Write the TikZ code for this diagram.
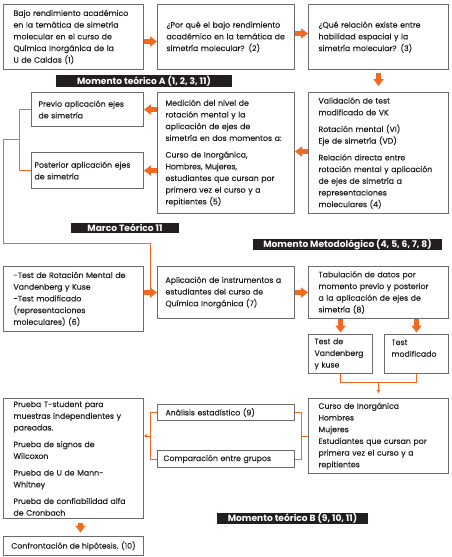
\documentclass[tikz,border=0pt]{standalone}
\usepackage{fontspec}
\setmainfont{Poppins}
\newfontfamily\bodyff{Poppins}[FakeBold=0.3]
\usetikzlibrary{arrows.meta,calc}
\definecolor{orng}{HTML}{F26A21}
\definecolor{boxg}{HTML}{6B6B6B}
\definecolor{txt}{HTML}{231F20}
\newcommand{\bodyfnt}{\bodyff\fontsize{7.8}{11.7}\selectfont}
\newcommand{\barfnt}{\fontsize{9.1}{10}\selectfont\bfseries}
\begin{document}
\begin{tikzpicture}[x=1pt,y=-1pt,
  box/.style={draw=boxg, line width=1pt, anchor=north west, align=left,
    inner ysep=1pt, text=txt, font=\bodyfnt},
  bar/.style={fill=txt, text=white, font=\barfnt, inner sep=0pt},
  oline/.style={draw=orng, line width=0.9pt},
  smalltip/.style={-{Triangle[length=3pt,width=3.5pt]}},
  bigarrow/.style={draw=orng, line width=4.5pt,
    -{Triangle[length=7pt,width=10.5pt,line width=0pt]}}]
\useasboundingbox (0,0) rectangle (451,557);

% row 1
\node[box, minimum width=140pt, minimum height=65pt, inner xsep=10pt, text width=120pt] (b1) at (3,4)
 {Bajo rendimiento académico\\en la temática de simetría\\molecular en el curso de\\Química Inorgánica de la\\U de Caldas (1)};
\node[box, minimum width=137pt, minimum height=65pt, inner xsep=9pt, text width=119pt] (b2) at (157,4)
 {¿Por qué el bajo rendimiento\\académico en la temática de\\simetría molecular? (2)};
\node[box, minimum width=140pt, minimum height=65pt, inner xsep=10pt, text width=120pt] (b3) at (308,4)
 {¿Qué relación existe entre\\habilidad espacial y la\\simetría molecular? (3)};

% row 2
\node[box, minimum width=112pt, minimum height=34pt, inner xsep=7pt, text width=98pt] (bprev) at (31,92)
 {Previo aplicación ejes\\de simetría};
\node[box, minimum width=112pt, minimum height=36pt, inner xsep=3pt, text width=106pt] (bpost) at (31,152)
 {Posterior aplicación ejes\\de simetría};
\node[box, minimum width=137pt, minimum height=121pt, inner xsep=8pt, text width=121pt] (bmed) at (157,92)
 {Medición del nivel de\\rotación mental y la\\aplicación de ejes de\\simetría en dos momentos a:\\[5pt]Curso de Inorgánica,\\Hombres, Mujeres,\\estudiantes que cursan por\\primera vez el curso y a\\repitientes (5)};
\node[box, minimum width=140pt, minimum height=121pt, inner xsep=10pt, text width=120pt] (bval) at (308,92)
 {Validación de test\\modificado de VK\\[5pt]Rotación mental (VI)\\Eje de simetría (VD)\\[5pt]Relación directa entre\\rotación mental y aplicación\\de ejes de simetría a\\representaciones\\moleculares (4)};

% row 3
\node[box, minimum width=140pt, minimum height=65pt, inner xsep=10pt, text width=120pt] (b6) at (3,266)
 {-Test de Rotación Mental de\\Vandenberg y Kuse\\-Test modificado\\(representaciones\\moleculares) (6)};
\node[box, minimum width=137pt, minimum height=52pt, inner xsep=8pt, text width=121pt] (b7) at (157,266)
 {Aplicación de instrumentos a\\estudiantes del curso de\\Química Inorgánica (7)};
\node[box, minimum width=140pt, minimum height=52pt, inner xsep=10pt, text width=120pt] (b8) at (308,266)
 {Tabulación de datos por\\momento previo y posterior\\a la aplicación de ejes de\\simetría (8)};

\node[box, minimum width=64pt, minimum height=39pt, inner xsep=6pt, text width=52pt] (tvk) at (308,334)
 {Test de\\Vandenberg\\y kuse};
\node[box, minimum width=64pt, minimum height=39pt, inner xsep=7pt, text width=50pt] (tmod) at (384,334)
 {Test\\modificado\\\mbox{}};

\node[box, minimum width=140pt, minimum height=75pt, inner xsep=10pt, text width=120pt] (curso) at (308,398)
 {Curso de Inorgánica\\Hombres\\Mujeres\\Estudiantes que cursan por\\primera vez el curso y a\\repitientes};
\node[box, minimum width=137pt, minimum height=16pt, inner xsep=8pt, text width=121pt] (anal) at (157,404)
 {Análisis estadístico (9)};
\node[box, minimum width=137pt, minimum height=17pt, inner xsep=6pt, text width=125pt] (comp) at (157,450)
 {Comparación entre grupos};
\node[box, minimum width=140pt, minimum height=120pt, inner xsep=10pt, text width=120pt] (prueba) at (3,398)
 {Prueba T-student para\\muestras independientes y\\pareadas.\\[5pt]Prueba de signos de\\Wilcoxon\\[5pt]Prueba de U de Mann-\\Whitney\\[5pt]Prueba de confiabilidad alfa\\de Cronbach};
\node[box, minimum width=140pt, minimum height=19pt, inner xsep=2pt] (conf) at (3,536)
 {Confrontación de hipótesis. (10)};

% bars
\node[bar, minimum width=176pt, minimum height=12pt] (barA) at (144,81) {Momento teórico A (1, 2, 3, 11)};
\node[bar, minimum width=108pt, minimum height=10pt] (barM) at (125,228) {Marco Teórico 11};
\node[bar, minimum width=189pt, minimum height=11pt] (barMet) at (347.5,244.5) {Momento Metodológico (4, 5, 6, 7, 8)};
\node[bar, minimum width=151pt, minimum height=9.5pt] (barB) at (292.5,518.5) {Momento teórico B (9, 10, 11)};

% thin orange connectors
\coordinate (brk) at (19,139);
\coordinate (c1) at (3,139);
\coordinate (c2) at (3,243);
\coordinate (c3) at (150,243);
\coordinate (c4) at (150,292);
\draw[oline] (bprev.west) -- (bprev.west -| brk) -- (bpost.west -| brk) -- (bpost.west);
\draw[oline] (brk) -- (c1) -- (c2) -- (c3) -- (c4);

\coordinate (join) at (378,382);
\draw[oline] (tvk.south) -- (tvk.south |- join) -- (tmod.south |- join) -- (tmod.south);
\draw[oline, smalltip] (join -| curso.north) -- ([yshift=5pt]curso.north);

\coordinate (lb) at (150,436);
\draw[oline] (anal.west) -- (anal.west -| lb) -- (comp.west -| lb) -- (comp.west);
\draw[oline, smalltip] (lb) -- (prueba.east |- lb);
\coordinate (rb) at (301,436);
\draw[oline] (anal.east) -- (anal.east -| rb) -- (comp.east -| rb) -- (comp.east);
\draw[oline] (rb) -- (curso.west |- rb);

% big arrows
\draw[bigarrow] ([yshift=-4.5pt]b1.east) -- ([yshift=-4.5pt]b2.west);
\draw[bigarrow] ([yshift=3.5pt]b2.east) -- ([yshift=3.5pt]b3.west);
\draw[bigarrow, shorten <=3pt, shorten >=6pt] (b3.south) -- (bval.north);
\draw[bigarrow] (bmed.west |- bprev.east) -- (bprev.east);
\draw[bigarrow] (bmed.west |- bpost.east) -- (bpost.east);
\draw[bigarrow] ([yshift=1.5pt]bval.west) -- ([yshift=1.5pt]bmed.east);
\draw[bigarrow] (b6.east |- b7.west) -- (b7.west);
\draw[bigarrow] (b7.east) -- (b8.west);
\draw[bigarrow, shorten >=1.5pt] (b8.south -| tvk.north) -- (tvk.north);
\draw[bigarrow, shorten >=1.5pt] (b8.south -| tmod.north) -- (tmod.north);
\draw[bigarrow, shorten <=4pt, shorten >=3.5pt] ([xshift=7pt]prueba.south) -- ([xshift=7pt]conf.north);
\end{tikzpicture}
\end{document}
